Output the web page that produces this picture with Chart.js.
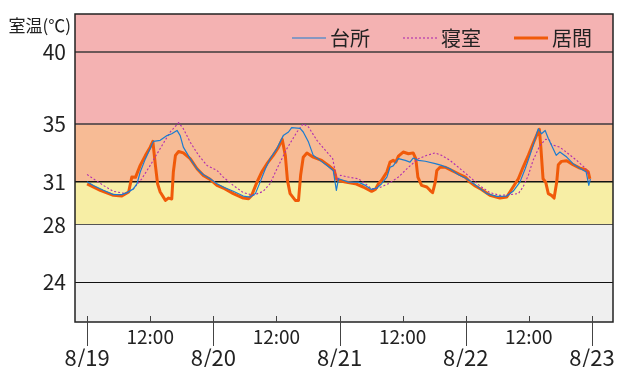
<!DOCTYPE html>
<html lang="ja">
<head>
<meta charset="UTF-8">
<title>室温</title>
<script src="https://cdn.jsdelivr.net/npm/chart.js"></script>
<style>
  html, body { margin: 0; padding: 0; background: #fff; }
  canvas { display: block; }
</style>
</head>
<body>
<canvas id="myChart" width="617" height="367"></canvas>
<script>
// 時間は 8/19 0:00 からの経過時間 (h)
const dayLabels = ['8/19', '8/20', '8/21', '8/22', '8/23'];
const halfDayLabel = '12:00';
const yTicks = [24, 28, 31, 35, 40];
const seriesNames = ['台所', '寝室', '居間'];

// 台所
const kitchenHours = [0, 1.2, 3.1, 5.0, 6.6, 7.6, 8.8, 9.5, 10.1, 11.1, 12.0, 12.6, 13.9, 15.2, 16.1, 17.1, 17.7, 18.3, 19.6, 20.9, 22.1, 23.4,
  24.7, 25.9, 27.8, 29.7, 31.0, 32.0, 32.9, 33.9, 34.8, 36.1, 37.3, 38.3, 38.9, 40.5, 41.1, 42.1, 43.0, 44.3, 45.6, 46.8, 47.4, 47.8,
  48.7, 49.7, 51.6, 52.9, 54.1, 55.1, 56.0, 57.0, 57.6, 58.2, 59.2, 60.5, 61.4, 62.0, 63.0, 64.3, 66.2, 67.4, 69.0, 70.6, 72.2,
  74.1, 76.0, 77.9, 79.8, 81.0, 82.3, 83.3, 84.2, 85.2, 85.8, 86.4, 87.1, 87.7, 88.6, 89.2, 89.9, 91.2, 92.4, 93.7, 94.9, 95.4, 95.7];
const kitchenTemps = [31.0, 30.74, 30.4, 30.1, 30.1, 30.24, 30.5, 30.86, 31.67, 32.6, 33.3, 33.8, 33.87, 34.2, 34.33, 34.56, 34.2, 33.4, 32.6, 31.9, 31.48, 31.2,
  30.86, 30.63, 30.33, 30.0, 29.93, 30.17, 30.97, 31.9, 32.6, 33.3, 34.2, 34.45, 34.75, 34.7, 34.45, 33.75, 32.83, 32.48, 32.13, 31.78, 30.4, 31.2,
  31.1, 30.97, 30.97, 30.74, 30.46, 30.56, 30.86, 31.32, 32.0, 32.1, 32.6, 32.48, 32.36, 32.64, 32.48, 32.42, 32.25, 32.13, 31.9, 31.48, 31.2,
  30.7, 30.17, 29.98, 30.0, 30.33, 30.97, 31.9, 32.83, 33.99, 34.68, 34.33, 34.56, 34.0, 33.3, 32.83, 33.06, 32.71, 32.25, 31.94, 31.67, 30.74, 31.2];

// 寝室
const bedroomHours = [0, 1.2, 3.1, 5.0, 7.3, 8.8, 10.4, 12.0, 13.9, 15.8, 17.4, 18.3, 19.6, 21.2, 22.8,
  24.7, 25.9, 27.8, 29.7, 31.6, 33.5, 34.8, 36.1, 38.0, 39.9, 41.1, 42.1, 43.7, 45.6, 46.7, 47.2, 47.6,
  48.2, 49.7, 51.6, 52.9, 54.1, 55.4, 57.3, 59.2, 61.1, 63.0, 64.6, 66.2, 67.4, 69.0, 70.6,
  72.8, 74.7, 76.6, 78.5, 80.4, 82.0, 82.9, 83.9, 84.8, 86.1, 87.2, 87.9, 88.3, 89.9, 91.5, 93.1, 94.7, 95.6];
const bedroomTemps = [31.5, 31.2, 30.74, 30.33, 30.17, 30.5, 31.2, 32.13, 33.3, 34.45, 35.1, 34.68, 33.75, 32.83, 32.13,
  31.78, 31.32, 30.74, 30.24, 30.05, 30.33, 30.86, 31.9, 33.3, 34.45, 35.03, 34.8, 33.87, 33.06, 32.6, 31.67, 31.09,
  31.44, 31.32, 31.2, 30.86, 30.5, 30.55, 30.86, 31.32, 32.0, 32.6, 32.83, 33.0, 32.83, 32.48, 32.0,
  31.32, 30.7, 30.24, 30.05, 30.1, 30.17, 30.63, 31.44, 32.48, 33.52, 33.94, 33.9, 33.57, 33.4, 32.94, 32.48, 31.94, 31.44];

// 居間
const livingHours = [0, 2.5, 5.0, 6.6, 7.9, 8.5, 9.2, 10.1, 11.1, 12.0, 12.5, 13.0, 13.4, 13.9, 14.9, 15.5, 16.1, 16.4, 16.8, 17.4, 18.3, 19.6, 20.9, 22.1, 23.4,
  24.7, 25.9, 27.8, 29.7, 30.7, 31.3, 32.3, 33.2, 34.2, 35.4, 36.4, 37.1, 37.7, 38.1, 38.6, 39.6, 40.2, 40.6, 41.1, 41.8, 43.0, 44.6, 45.9, 47.0, 47.4, 47.8,
  49.1, 51.0, 52.5, 54.1, 54.8, 55.4, 56.0, 57.0, 57.6, 58.2, 58.7, 59.2, 60.1, 61.1, 62.0, 62.5, 62.9, 63.6, 64.6, 65.2, 65.7, 66.2, 66.5, 67.1, 68.1, 69.3, 70.6, 71.9,
  72.8, 73.8, 75.0, 76.6, 78.5, 79.8, 81.0, 82.0, 82.9, 83.9, 84.8, 85.6, 86.0, 86.3, 86.7, 87.2, 87.7, 88.3, 88.8, 89.3, 89.6, 90.2, 91.2, 92.4, 93.7, 94.7, 95.3, 95.6];
const livingTemps = [30.85, 30.4, 30.05, 30.0, 30.28, 31.32, 31.3, 32.13, 32.83, 33.4, 33.8, 32.1, 30.86, 30.28, 29.7, 29.86, 29.8, 31.67, 32.83, 33.1, 33.0, 32.6, 31.9, 31.44, 31.16,
  30.74, 30.56, 30.17, 29.86, 29.82, 30.05, 30.97, 31.67, 32.25, 32.83, 33.4, 33.94, 32.8, 31.09, 30.17, 29.7, 29.7, 31.44, 32.7, 32.99, 32.7, 32.48, 32.13, 31.78, 31.2, 31.1,
  30.97, 30.86, 30.63, 30.33, 30.46, 30.86, 31.09, 31.67, 32.36, 32.48, 32.36, 32.78, 33.06, 32.94, 33.0, 32.6, 31.32, 30.74, 30.63, 30.4, 30.23, 30.97, 31.78, 32.0, 32.0, 31.78, 31.55, 31.32,
  30.97, 30.7, 30.46, 30.05, 29.86, 29.93, 30.63, 31.2, 32.0, 32.83, 33.64, 34.33, 34.63, 33.3, 31.2, 30.97, 30.17, 30.05, 29.86, 30.97, 32.18, 32.41, 32.45, 32.18, 31.94, 31.85, 31.67, 31.2];

// 温度帯
const bandLows = [21.25, 28, 31, 35];
const bandHighs = [28, 31, 35, 42.65];

const FONT = '"Noto Sans CJK JP", "Noto Sans", sans-serif';
const bandColors = ['#efefef', '#f7eea5', '#f7bb95', '#f4b2b2'];

function toPoints(hours, temps) {
  return hours.map((h, i) => ({ x: h, y: temps[i] }));
}

// 背景の温度帯
const bandPlugin = {
  id: 'bands',
  beforeDraw(chart) {
    const { ctx, chartArea: a, scales: { y } } = chart;
    ctx.save();
    bandLows.forEach((lo, i) => {
      const top = y.getPixelForValue(bandHighs[i]);
      const bottom = y.getPixelForValue(lo);
      ctx.fillStyle = bandColors[i];
      ctx.fillRect(a.left, top, a.right - a.left, bottom - top);
    });
    ctx.restore();
  }
};

// 枠, 目盛り, 凡例, 単位
const decoPlugin = {
  id: 'deco',
  afterDraw(chart) {
    const { ctx, chartArea: a, scales: { x } } = chart;
    ctx.save();
    // 枠
    ctx.strokeStyle = '#222';
    ctx.lineWidth = 1.5;
    ctx.strokeRect(a.left, a.top, a.right - a.left, a.bottom - a.top);

    // x 目盛り
    ctx.strokeStyle = '#444';
    ctx.lineWidth = 1;
    x.ticks.forEach(t => {
      const px = Math.round(x.getPixelForValue(t.value)) + 0.5;
      ctx.beginPath();
      ctx.moveTo(px, a.bottom - 6);
      ctx.lineTo(px, t.value % 24 === 0 ? a.bottom + 24 : a.bottom);
      ctx.stroke();
    });

    // 単位
    ctx.fillStyle = '#222';
    ctx.font = '17px ' + FONT;
    ctx.textAlign = 'right';
    ctx.textBaseline = 'middle';
    ctx.fillText('室温(℃)', 71, 26);

    // 凡例
    ctx.font = '20px ' + FONT;
    ctx.textAlign = 'left';
    let lx = 292;
    chart.data.datasets.forEach(ds => {
      ctx.strokeStyle = ds.borderColor;
      ctx.lineWidth = ds.borderWidth;
      ctx.setLineDash(ds.borderDash || []);
      ctx.beginPath();
      ctx.moveTo(lx, 38);
      ctx.lineTo(lx + 34, 38);
      ctx.stroke();
      ctx.setLineDash([]);
      ctx.fillStyle = '#222';
      ctx.fillText(ds.label, lx + 38, 38);
      lx += 38 + ctx.measureText(ds.label).width + 33;
    });
    ctx.restore();
  }
};

function noPad(axis) {
  axis.paddingTop = 0;
  axis.paddingBottom = 0;
  axis.paddingLeft = 0;
  axis.paddingRight = 0;
}

const ctx = document.getElementById('myChart').getContext('2d');
new Chart(ctx, {
  type: 'line',
  data: {
    datasets: [
      { label: seriesNames[0], data: toPoints(kitchenHours, kitchenTemps), borderColor: '#1b7cd0', borderWidth: 1.2 },
      { label: seriesNames[1], data: toPoints(bedroomHours, bedroomTemps), borderColor: '#b02cb0', borderWidth: 1.1, borderDash: [2, 2] },
      { label: seriesNames[2], data: toPoints(livingHours, livingTemps), borderColor: '#f05a0a', borderWidth: 3 }
    ]
  },
  options: {
    responsive: false,
    animation: false,
    devicePixelRatio: 1,
    layout: { padding: { top: 14, right: 4, left: 0, bottom: 0 } },
    elements: { point: { radius: 0 }, line: { tension: 0, fill: false, borderJoinStyle: 'round' } },
    plugins: { legend: { display: false }, tooltip: { enabled: false } },
    scales: {
      x: {
        type: 'linear',
        min: -2.3,
        max: 100,
        afterBuildTicks: axis => { axis.ticks = [0, 12, 24, 36, 48, 60, 72, 84, 96].map(v => ({ value: v })); },
        afterFit: axis => { axis.height = 45; noPad(axis); },
        grid: { display: false, drawTicks: false },
        border: { display: false },
        ticks: {
          autoSkip: false,
          maxRotation: 0,
          padding: 3,
          color: '#222',
          font: c => (c.tick && c.tick.value % 24 === 0)
            ? { family: FONT, size: 22, lineHeight: 0.98 }
            : { family: FONT, size: 19, lineHeight: 1.2 },
          callback: v => (v % 24 === 0) ? ['', dayLabels[v / 24]] : halfDayLabel
        }
      },
      y: {
        min: bandLows[0],
        max: bandHighs[bandHighs.length - 1],
        afterBuildTicks: axis => { axis.ticks = yTicks.map(v => ({ value: v })); },
        afterFit: axis => { axis.width = 75; noPad(axis); },
        border: { display: false },
        grid: {
          drawTicks: false,
          color: c => (c.tick && c.tick.value >= 35) ? '#6b5858' : (c.tick && c.tick.value === 28 ? '#555' : '#111'),
          lineWidth: c => (c.tick && c.tick.value >= 35) ? 2 : (c.tick && c.tick.value === 31 ? 1.5 : 1)
        },
        ticks: { padding: 9, color: '#222', font: { family: FONT, size: 21 } }
      }
    }
  },
  plugins: [bandPlugin, decoPlugin]
});
</script>
</body>
</html>
